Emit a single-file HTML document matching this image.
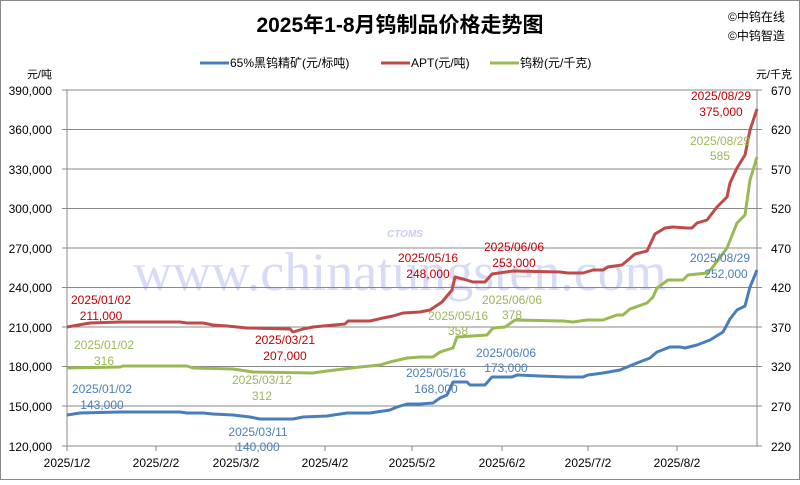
<!DOCTYPE html>
<html><head><meta charset="utf-8"><style>
body{margin:0;background:#fff}
svg text{font-family:"Liberation Sans","Noto Sans CJK SC",sans-serif}
</style></head><body>
<svg width="800" height="480" viewBox="0 0 800 480" xmlns="http://www.w3.org/2000/svg">
<rect x="0.5" y="0.5" width="799" height="479" fill="#fff" stroke="#888"/>
<text x="400" y="32" font-size="21" font-weight="bold" text-anchor="middle" fill="#000">2025年1-8月钨制品价格走势图</text>
<text x="728" y="21" font-size="12" fill="#000">©中钨在线</text>
<text x="728" y="40" font-size="12" fill="#000">©中钨智造</text>
<!-- legend -->
<line x1="200" y1="63" x2="229" y2="63" stroke="#4a7ebb" stroke-width="3"/>
<text x="230" y="67" font-size="12">65%黑钨精矿(元/标吨)</text>
<line x1="381" y1="63" x2="410" y2="63" stroke="#be4b48" stroke-width="3"/>
<text x="411" y="67" font-size="12">APT(元/吨)</text>
<line x1="490" y1="63" x2="519" y2="63" stroke="#98b954" stroke-width="3"/>
<text x="520" y="67" font-size="12">钨粉(元/千克)</text>
<text x="52" y="78" font-size="11" text-anchor="end">元/吨</text>
<text x="792" y="78" font-size="11" text-anchor="end">元/千克</text>
<!-- watermark -->
<text x="400" y="290" font-size="54" font-family="Liberation Serif,serif" fill="#c8ccf4" opacity="0.7" text-anchor="middle" style="font-family:'Liberation Serif',serif">www.chinatungsten.com</text>
<text x="405" y="237" font-size="10" font-weight="bold" font-style="italic" fill="#c8ccf4" text-anchor="middle">CTOMS</text>
<!-- grid -->
<g stroke="#888" stroke-width="1">
<line x1="62" y1="90" x2="762" y2="90"/><line x1="62" y1="129.5" x2="762" y2="129.5"/>
<line x1="62" y1="169" x2="762" y2="169"/><line x1="62" y1="208.5" x2="762" y2="208.5"/>
<line x1="62" y1="248" x2="762" y2="248"/><line x1="62" y1="287.5" x2="762" y2="287.5"/>
<line x1="62" y1="327" x2="762" y2="327"/><line x1="62" y1="366.5" x2="762" y2="366.5"/>
<line x1="62" y1="406" x2="762" y2="406"/><line x1="62" y1="446" x2="762" y2="446"/>
<line x1="67" y1="90" x2="67" y2="451"/><line x1="757" y1="90" x2="757" y2="446"/>
<line x1="156" y1="446" x2="156" y2="451"/><line x1="236" y1="446" x2="236" y2="451"/>
<line x1="325" y1="446" x2="325" y2="451"/><line x1="412" y1="446" x2="412" y2="451"/>
<line x1="502" y1="446" x2="502" y2="451"/><line x1="588" y1="446" x2="588" y2="451"/>
<line x1="677" y1="446" x2="677" y2="451"/>
</g>
<g font-size="12" text-anchor="end">
<text x="52" y="95">390,000</text><text x="52" y="134">360,000</text><text x="52" y="174">330,000</text>
<text x="52" y="213">300,000</text><text x="52" y="253">270,000</text><text x="52" y="292">240,000</text>
<text x="52" y="332">210,000</text><text x="52" y="371">180,000</text><text x="52" y="411">150,000</text>
<text x="52" y="451">120,000</text>
</g>
<g font-size="12" text-anchor="end">
<text x="791" y="95">670</text><text x="791" y="134">620</text><text x="791" y="174">570</text>
<text x="791" y="213">520</text><text x="791" y="253">470</text><text x="791" y="292">420</text>
<text x="791" y="332">370</text><text x="791" y="371">320</text><text x="791" y="411">270</text>
<text x="791" y="451">220</text>
</g>
<g font-size="12" text-anchor="middle">
<text x="67" y="467">2025/1/2</text><text x="156" y="467">2025/2/2</text><text x="236" y="467">2025/3/2</text>
<text x="325" y="467">2025/4/2</text><text x="412" y="467">2025/5/2</text><text x="502" y="467">2025/6/2</text>
<text x="588" y="467">2025/7/2</text><text x="677" y="467">2025/8/2</text>
</g>
<!-- series -->
<g fill="none" stroke-width="3" stroke-linejoin="round">
<polyline stroke="#be4b48" points="67,327 90,323 120,322 180,322 187,323 203,323 213,325 227,326 247,328 290,329 293,332 303,329 313,327 323,326 345,324 348,321 370,321 383,318 393,316 403,313 420,312 430,310 442,302 452,290 455,277 463,279 473,282 485,282 492,274 513,271 560,272 568,273 583,273 593,270 603,270 608,267 622,265 635,254 647,251 655,234 665,228 673,227 687,228 692,228 697,223 707,220 717,207 727,197 730,183 737,168 745,155 750,130 757,109"/>
<polyline stroke="#98b954" points="67,368 120,367 123,366 187,366 193,368 233,369 253,372 313,373 327,371 360,367 380,365 390,362 407,358 420,357 433,357 440,352 453,348 457,337 487,335 493,328 505,327 515,320 563,321 573,322 587,320 603,320 617,315 623,315 630,309 647,303 653,297 657,288 668,280 683,280 688,275 707,273 712,268 727,248 737,223 745,215 750,180 757,157"/>
<polyline stroke="#4a7ebb" points="67,415 80,413 120,412 180,412 187,413 203,413 213,414 233,415 250,417 260,419 293,419 303,417 327,416 347,413 370,413 390,410 397,407 407,404 420,404 433,403 440,398 447,395 453,382 467,382 470,385 485,385 492,377 512,377 517,375 540,376 567,377 583,377 588,375 603,373 620,370 637,363 650,358 657,352 670,347 680,347 685,348 697,345 710,340 723,332 730,319 737,310 745,306 750,287 757,270"/>
</g>
<!-- labels -->
<g font-size="12" text-anchor="middle">
<g fill="#c00000">
<text x="101" y="304">2025/01/02</text><text x="101" y="320">211,000</text>
<text x="285" y="344">2025/03/21</text><text x="285" y="360">207,000</text>
<text x="428" y="262">2025/05/16</text><text x="428" y="278">248,000</text>
<text x="514" y="251">2025/06/06</text><text x="514" y="267">253,000</text>
<text x="721" y="100">2025/08/29</text><text x="721" y="116">375,000</text>
</g>
<g fill="#98b954">
<text x="104" y="349">2025/01/02</text><text x="104" y="365">316</text>
<text x="262" y="384">2025/03/12</text><text x="262" y="400">312</text>
<text x="458" y="320">2025/05/16</text><text x="458" y="335">358</text>
<text x="512" y="304">2025/06/06</text><text x="512" y="319">378</text>
<text x="720" y="145">2025/08/29</text><text x="720" y="160">585</text>
</g>
<g fill="#4a7ebb">
<text x="102" y="393">2025/01/02</text><text x="102" y="409">143,000</text>
<text x="258" y="436">2025/03/11</text><text x="258" y="451">140,000</text>
<text x="436" y="377">2025/05/16</text><text x="436" y="393">168,000</text>
<text x="506" y="357">2025/06/06</text><text x="506" y="372">173,000</text>
<text x="720" y="262">2025/08/29</text><text x="726" y="278">252,000</text>
</g>
</g>
</svg>
</body></html>
